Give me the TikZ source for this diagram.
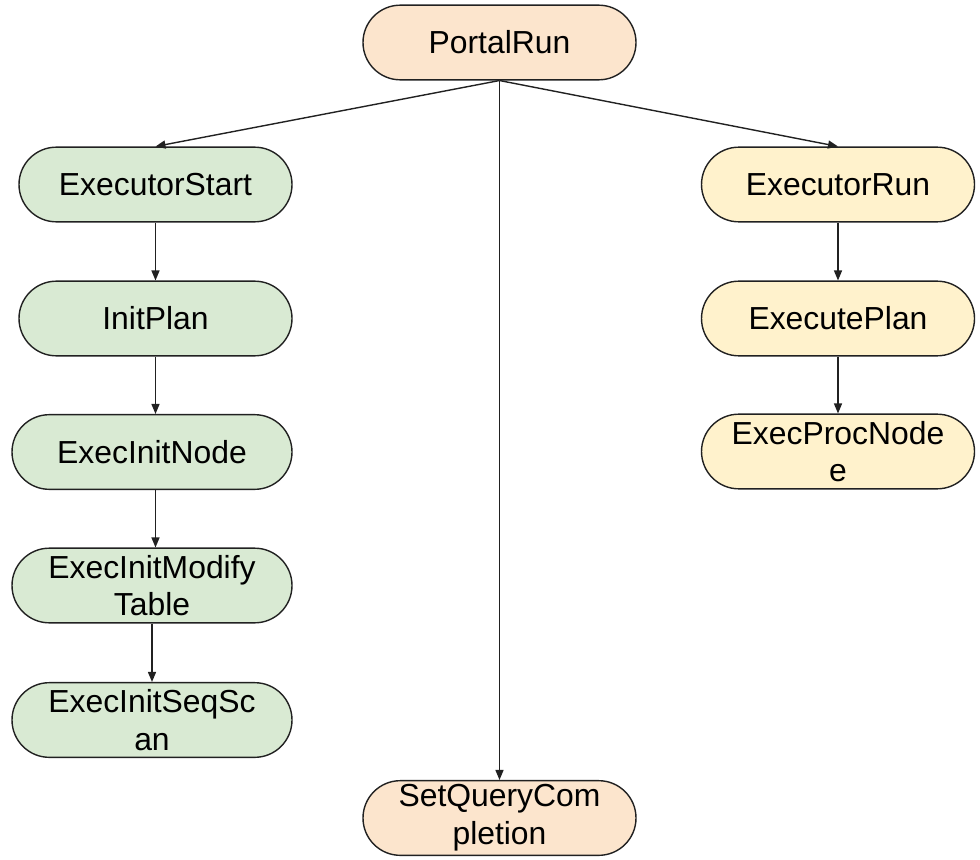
\documentclass[tikz,border=0pt]{standalone}
\usepackage{fontspec}
\setmainfont{Liberation Sans}
\usepackage{tikz}
\usetikzlibrary{arrows.meta, positioning}
\usepackage{xcolor}
\definecolor{lightgreenbox}{RGB}{217,234,211}
\definecolor{lightorangebox}{RGB}{252,229,205}
\definecolor{lightyellowbox}{RGB}{255,242,204}
\definecolor{edgegray}{RGB}{33,33,33}
\tikzset{
  basebox/.style={
    rectangle, rounded corners=28pt, draw=edgegray, line width=1.05pt, align=center,
    font=\fontsize{23.9}{28.3}\selectfont, minimum width=204.75pt, minimum height=56pt, inner sep=0pt
  },
  portalbox/.style={basebox, fill=lightorangebox},
  startbox/.style={basebox, fill=lightgreenbox},
  widebox/.style={startbox, minimum width=210pt},
  runbox/.style={basebox, fill=lightyellowbox},
  arrow/.style={-{Triangle[length=7.5pt, width=6pt]}, line width=1.05pt, color=edgegray}
}
\begin{document}
\begin{tikzpicture}[x=0.75pt, y=-0.75pt]
  \useasboundingbox (0,0) rectangle (980,859);
  % top and bottom
  \node[portalbox] (portal) at (499.5,42.5) {PortalRun};
  \node[portalbox] (setq) at (499.5,818) {SetQueryCom\\pletion};
  % start branch
  \node[startbox] (estart) at (155.5,184.5) {ExecutorStart};
  \node[startbox] (iplan) at (155.5,318.5) {InitPlan};
  \node[widebox] (einode) at (152,452) {ExecInitNode};
  \node[widebox] (emodify) at (152,585.5) {ExecInitModify\\Table};
  \node[widebox] (escan) at (152,720) {ExecInitSeqSc\\an};
  % run branch
  \node[runbox] (erun) at (838,184.5) {ExecutorRun};
  \node[runbox] (eplan) at (838,318.5) {ExecutePlan};
  \node[runbox] (eproc) at (838,451.5) {ExecProcNode\\e};
  % connectors
  \draw[arrow] (portal.south) -- (estart.north);
  \draw[arrow] (portal.south) -- (erun.north);
  \draw[arrow] (portal.south) -- (setq.north);
  \draw[arrow] (estart.south) -- (estart.south |- iplan.north);
  \draw[arrow] (iplan.south) -- (iplan.south |- einode.north);
  \draw[arrow] (iplan.south |- einode.south) -- (iplan.south |- emodify.north);
  \draw[arrow] (emodify.south) -- (escan.north);
  \draw[arrow] (erun.south) -- (eplan.north);
  \draw[arrow] (eplan.south) -- (eproc.north);
\end{tikzpicture}
\end{document}
